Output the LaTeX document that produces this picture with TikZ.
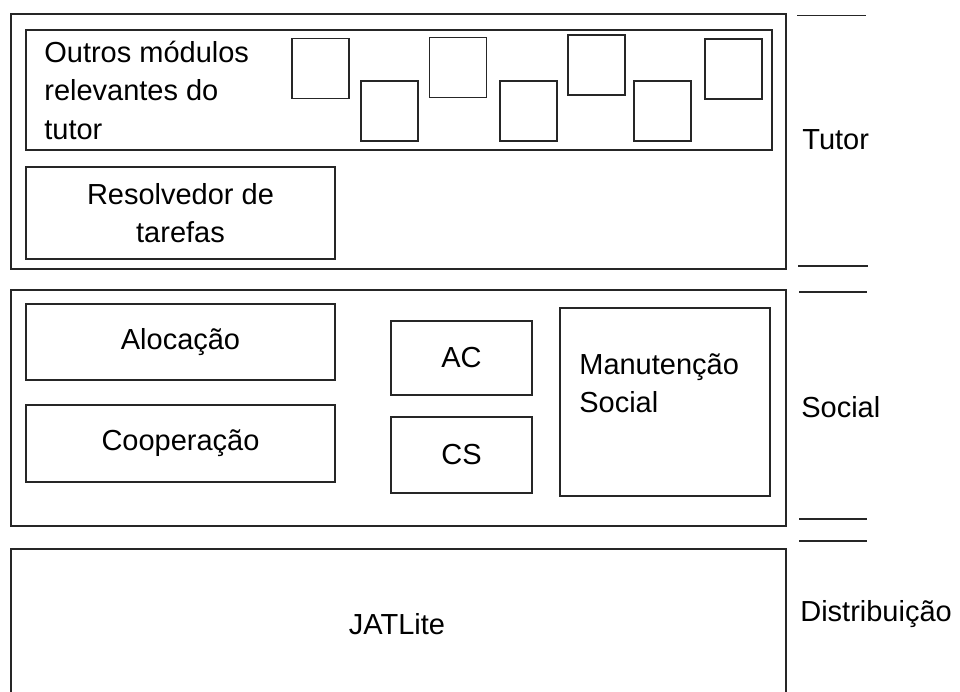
\documentclass[tikz,border=0pt]{standalone}
\usepackage{fontspec}
\setmainfont{Liberation Sans}
\tikzset{
    layer/.style={draw=black!85, line width=0.9pt, inner sep=0pt},
    modbox/.style={draw=black!85, line width=0.9pt, minimum width=1.14cm, minimum height=1.2cm, inner sep=0pt},
}
\begin{document}
\begin{tikzpicture}[x=0.02cm, y=-0.02cm, font=\fontsize{16.5}{22}\selectfont]
            \clip (0,0) rectangle (960,691);
            % camada do tutor
            \node[layer, minimum width=15.5cm, minimum height=5.1cm] (tutor) at (398.5,141.5) {};
            \node[layer, minimum width=14.92cm, minimum height=2.4cm] (outros) at (399,90) {};
            \node[anchor=base west, align=left, inner sep=0pt] (outrostxt) at (44,139.5) {Outros módulos\\relevantes do\\tutor};
            \foreach \x/\y [count=\i] in {320.5/68.5, 389.5/111, 458/67.5, 528.5/111, 596.5/65, 662.5/111, 733.5/69}
                \node[modbox] (m\i) at (\x,\y) {};
            \node[layer, minimum width=6.18cm, minimum height=1.84cm, align=center] (resolv) at (180.5,213) {Resolvedor de\\tarefas};

            % camada social
            \node[layer, minimum width=15.5cm, minimum height=4.72cm] (social) at (398.5,408) {};
            \node[layer, minimum width=6.18cm, minimum height=1.52cm] (aloc) at (180.5,342) {Alocação};
            \node[layer, minimum width=6.18cm, minimum height=1.54cm] (coop) at (180.5,443.5) {Cooperação};
            \node[layer, minimum width=2.82cm, minimum height=1.48cm] (ac) at (461.5,358) {AC};
            \node[layer, minimum width=2.82cm, minimum height=1.52cm] (cs) at (461.5,455) {CS};
            \node[layer, minimum width=4.2cm, minimum height=3.76cm] (manut) at (665,402) {};
            \node[anchor=base west, align=left, inner sep=0pt] (manuttxt) at (579,412.7) {Manutenção\\Social};

            % camada de distribuicao
            \node[layer, minimum width=15.5cm, minimum height=4cm, anchor=north] (dist) at (398.5,548) {};
            \node[anchor=base, inner sep=0pt] (jat) at (397,634) {JATLite};

            % rotulos das camadas
            \node[anchor=base west, inner sep=0pt] (ltutor) at (802,149) {Tutor};
            \node[anchor=base west, inner sep=0pt] (lsocial) at (801,417) {Social};
            \node[anchor=base west, inner sep=0pt] (ldist) at (800,621.7) {Distribuição};
            \coordinate (t1) at (797,15.7);
            \coordinate (t2) at (798,266);
            \coordinate (s1) at (799,292);
            \coordinate (s2) at (799,519);
            \coordinate (d1) at (799,541);
            \draw[black!85, line width=0.9pt] (t1) -- ++(69,0);
            \draw[black!85, line width=0.9pt] (t2) -- ++(70,0);
            \draw[black!85, line width=0.9pt] (s1) -- ++(68,0);
            \draw[black!85, line width=0.9pt] (s2) -- ++(68,0);
            \draw[black!85, line width=0.9pt] (d1) -- ++(68,0);
\end{tikzpicture}
\end{document}
